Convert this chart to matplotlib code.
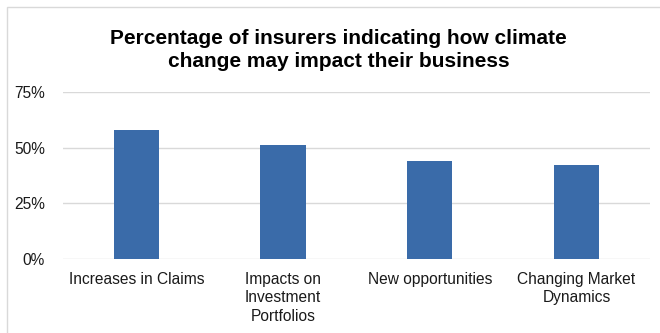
import matplotlib.pyplot as plt
from matplotlib.patches import Rectangle
from matplotlib.ticker import PercentFormatter

categories = ['Increases in Claims', 'Impacts on\nInvestment\nPortfolios',
              'New opportunities', 'Changing Market\nDynamics']
values = [0.58, 0.51, 0.44, 0.42]
yticks = [0, 0.25, 0.50, 0.75]

plt.rcParams['font.family'] = ['Liberation Sans', 'DejaVu Sans']

fig = plt.figure(figsize=(6.6, 3.33), dpi=100)
ax = fig.add_axes([0.0955, 0.222, 0.889, 0.502])

# light chart border (left / top visible)
fig.patches.append(Rectangle((7 / 660, -0.05), 1.0, 1.05 - 7 / 333,
                             transform=fig.transFigure, fill=False,
                             edgecolor='#d9d9d9', linewidth=1.0))

x = range(len(categories))
ax.bar(x, values, width=0.31, color='#3a6ba9', zorder=3)
ax.set_xlim(-0.5, len(categories) - 0.5)
ax.set_ylim(0, 0.75)
ax.set_yticks(yticks)
ax.yaxis.set_major_formatter(PercentFormatter(1.0, decimals=0))
ax.grid(axis='y', color='#d9d9d9', linewidth=1.0, zorder=0)
ax.set_xticks(list(x))
ax.set_xticklabels(categories, fontsize=11.2, color='#1a1a1a', linespacing=1.3)
ax.tick_params(axis='y', labelsize=11.2, labelcolor='#1a1a1a', length=0, pad=13)
ax.tick_params(axis='x', length=0, pad=9)
for s in ax.spines.values():
    s.set_visible(False)

fig.text(0.513, 0.85, 'Percentage of insurers indicating how climate\nchange may impact their business',
         ha='center', va='center', fontsize=15, fontweight='bold', linespacing=1.3)

fig.savefig('out.png', dpi=100)
